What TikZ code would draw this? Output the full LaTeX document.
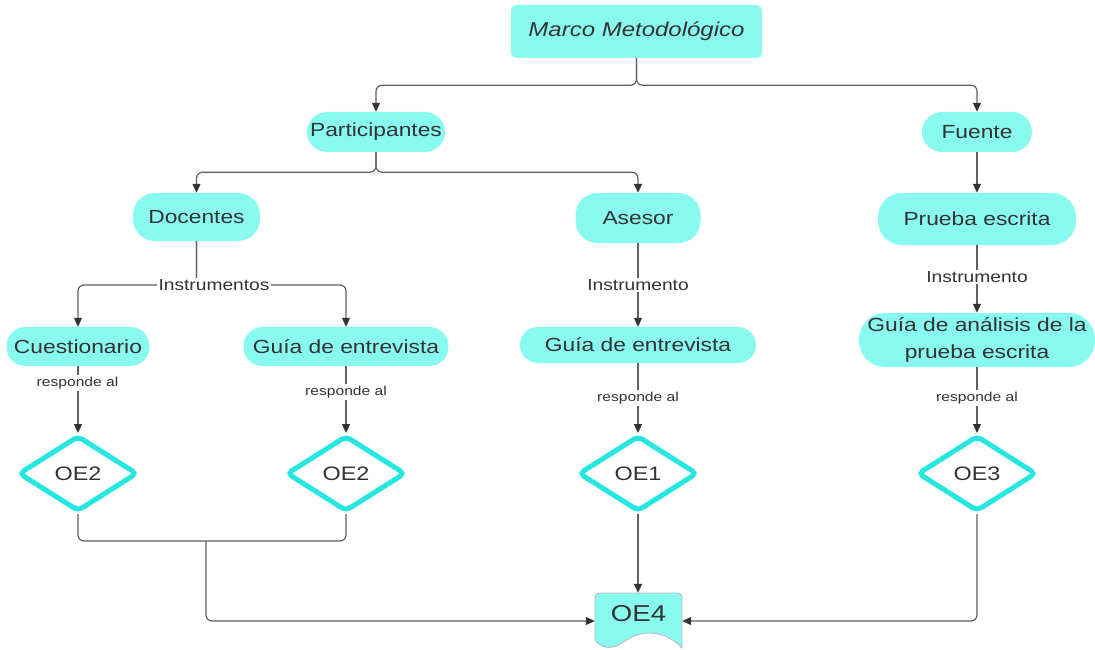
\documentclass[tikz,border=0pt]{standalone}
\usepackage{fontspec}
\setmainfont{Liberation Sans}[FakeStretch=1.2]
\usetikzlibrary{shapes.geometric,arrows.meta,calc}
\definecolor{boxfill}{RGB}{136,250,240}
\definecolor{goalline}{RGB}{38,230,224}
\definecolor{ink}{RGB}{51,51,51}
\definecolor{wire}{RGB}{95,95,95}

\begin{document}
\begin{tikzpicture}[x=1pt,y=-1pt,
  every node/.style={text=ink, font=\fontsize{19}{23}\selectfont},
  box/.style={fill=boxfill, inner sep=0pt, align=center},
  pill/.style={box, rounded corners=#1},
  pill/.default=18pt,
  goal/.style={diamond, draw=goalline, line width=5pt, rounded corners=5pt,
    fill=white, minimum width=119pt, minimum height=76pt, inner sep=0pt,
    font=\fontsize{19.5}{23}\selectfont},
  link/.style={draw=wire, line width=1.2pt, rounded corners=6pt},
  arrow/.style={link, -{Triangle[length=9pt,width=8pt,color=ink]}},
  tag/.style={fill=white, inner sep=1.5pt, font=\fontsize{16}{19}\selectfont},
  note/.style={fill=white, inner sep=1.5pt, font=\fontsize{13}{15}\selectfont},
]
\useasboundingbox (0,0) rectangle (1095,650);

% ---- boxes ----
\node[box, rounded corners=6pt, minimum width=251pt, minimum height=53pt,
  font=\fontsize{20}{24}\selectfont\itshape] (marco) at (636.5,31.5) {Marco Metodológico};

\node[pill=20pt, minimum width=138pt, minimum height=40pt] (part) at (376,132) {Participantes};
\node[pill=20pt, minimum width=110pt, minimum height=40pt] (fuente) at (977,132) {Fuente};

\node[pill=22pt, minimum width=127pt, minimum height=48pt] (doc) at (196.5,217) {Docentes};
\node[pill=22pt, minimum width=125pt, minimum height=50pt] (ases) at (638,218) {Asesor};
\node[pill=24pt, minimum width=198pt, minimum height=52pt] (prueba) at (977,219) {Prueba escrita};

\node[pill=19pt, minimum width=143pt, minimum height=39pt] (cuest) at (78,346.5) {Cuestionario};
\node[pill=19pt, minimum width=205pt, minimum height=39pt] (guial) at (346,346.5) {Guía de entrevista};
\node[pill=18pt, minimum width=236pt, minimum height=36pt] (guiam) at (638,345) {Guía de entrevista};
\node[pill=26pt, minimum width=236pt, minimum height=54pt, font=\fontsize{19}{27}\selectfont]
  (guiar) at (977,340) {Guía de análisis de la\\prueba escrita};

% ---- objectives ----
\node[goal] (oe2a) at (78,473.5) {OE2};
\node[goal] (oe2b) at (346,473.5) {OE2};
\node[goal] (oe1) at (638,473.5) {OE1};
\node[goal] (oe3) at (977,473.5) {OE3};

% document-shaped final objective
\path[fill=boxfill, draw=gray!55, line width=0.8pt, rounded corners=4pt]
  (595,640) -- (595,593) -- (682,593) [sharp corners] -- (682,648)
  .. controls (665,630) and (642,628) .. (622,643)
  .. controls (610,651) and (600,647) .. (595,640) -- cycle;
\node[inner sep=0pt, minimum width=87pt, minimum height=42pt,
  font=\fontsize{23}{26}\selectfont] (oe4) at (638.5,614) {OE4};

% ---- connectors ----
\draw[arrow] (marco.south) -- ++(0,27) -| (part.north);
\draw[arrow] (marco.south) -- ++(0,27) -| (fuente.north);

\draw[arrow] (part.south) -- ++(0,20) -| (doc.north);
\draw[arrow] (part.south) -- ++(0,20) -| (ases.north);

\draw[arrow] (fuente.south) -- (prueba.north);

\draw[arrow] (doc.south) -- (196.5,285) -| (cuest.north);
\draw[arrow] (doc.south) -- (196.5,285) -| (guial.north);
\node[tag] (instr) at (214,285) {Instrumentos};

\draw[arrow] (ases.south) -- (guiam.north);
\node[tag] (instm) at (638,285) {Instrumento};

\draw[arrow] (prueba.south) -- (guiar.north);
\node[tag] (instr2) at (977,277) {Instrumento};

\draw[arrow] (cuest.south) -- (oe2a.north);
\node[note] (resp1) at (77.5,383) {responde al};
\draw[arrow] (guial.south) -- (oe2b.north);
\node[note] (resp2) at (346,392) {responde al};
\draw[arrow] (guiam.south) -- (oe1.north);
\node[note] (resp3) at (638,398) {responde al};
\draw[arrow] (guiar.south) -- (oe3.north);
\node[note] (resp4) at (977,398) {responde al};

\coordinate (merge) at (206,541);
\draw[link] (oe2a.south) -- (78,541) -- (346,541) -- (oe2b.south);
\draw[arrow] (merge) |- ([yshift=-7pt]oe4.west);
\draw[arrow] (oe1.south) -- (oe1.south |- oe4.north);
\draw[arrow] (oe3.south) |- ([yshift=-7pt]oe4.east);
\end{tikzpicture}
\end{document}
